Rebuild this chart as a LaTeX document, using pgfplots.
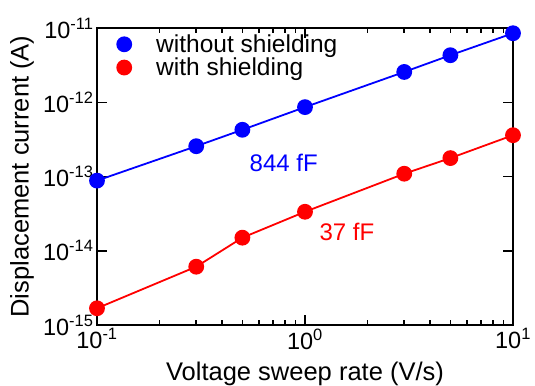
\documentclass[border=0pt]{standalone}
\usepackage{pgfplots}
\pgfplotsset{compat=1.18}
\usepackage{fontspec}
\setmainfont{Liberation Sans}
\begin{document}
\begin{tikzpicture}
\begin{axis}[
  name=a,
  xmode=log, ymode=log,
  scale only axis, width=416pt, height=297pt,
  xmin=0.1, xmax=10, ymin=1e-15, ymax=1e-11,
  xtick={0.1,1,10}, xticklabels={10\textsuperscript{-1},10\textsuperscript{0},10\textsuperscript{1}},
  ytick={1e-15,1e-14,1e-13,1e-12,1e-11},
  yticklabels={10\textsuperscript{-15},10\textsuperscript{-14},10\textsuperscript{-13},10\textsuperscript{-12},10\textsuperscript{-11}},
  yminorticks=false,
  tick align=inside, major tick length=10pt, minor tick length=5pt,
  every tick/.style={black, line width=1.5pt},
  axis line style={line width=2pt},
  ticklabel style={font=\fontsize{23.5}{25}\selectfont},
  label style={font=\fontsize{25.5}{27}\selectfont},
  xlabel={Voltage sweep rate (V/s)},
  ylabel={Displacement current (A)},
  xlabel style={at={(axis description cs:0.5,-0.188)}, anchor=base},
  ylabel style={at={(axis description cs:-0.180,0.5)}, anchor=center},
  legend style={draw=none, fill=none, at={(axis description cs:0.046,0.985)}, anchor=north west, font=\fontsize{24.5}{26}\selectfont, row sep=0pt, inner sep=0pt},
  legend cell align=left,
  legend image code/.code={\fill[#1] (7pt,0cm) circle (7pt); \path[draw=none, fill=none] (0pt,0pt) -- (37pt,0pt);},
  clip=false,
]
\addplot[blue, line width=1.8pt, mark=*, mark size=7pt] coordinates {
  (0.1,8.8e-14) (0.3,2.56e-13) (0.5,4.26e-13) (1,8.6e-13) (3,2.56e-12) (5,4.3e-12) (10,8.5e-12)};
\addlegendentry{without shielding}
\addplot[red, line width=1.8pt, mark=*, mark size=7pt] coordinates {
  (0.1,1.68e-15) (0.3,6.1e-15) (0.5,1.5e-14) (1,3.35e-14) (3,1.09e-13) (5,1.77e-13) (10,3.6e-13)};
\addlegendentry{with shielding}
\node[blue, font=\fontsize{24}{26}\selectfont] at (axis cs:0.79,1.52e-13) {844 fF};
\node[red, font=\fontsize{24}{26}\selectfont] at (axis cs:1.59,1.79e-14) {37 fF};
\end{axis}
\pgfresetboundingbox
\path ([shift={(-97pt,-61pt)}]a.south west) rectangle ([shift={(22pt,28pt)}]a.north east);
\end{tikzpicture}
\end{document}
